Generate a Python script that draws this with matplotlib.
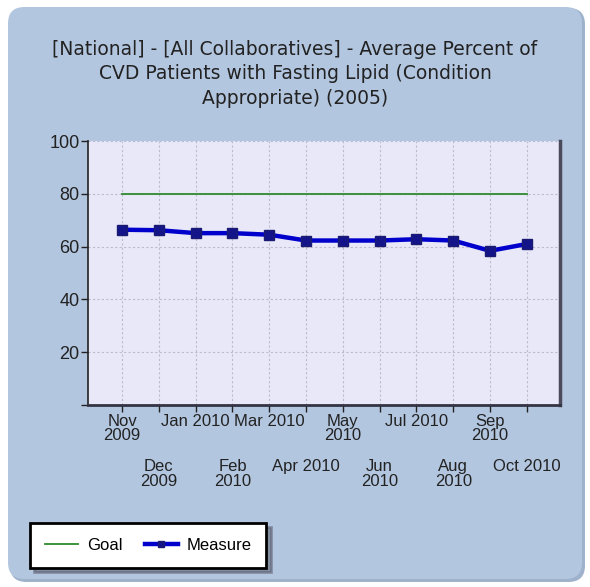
import matplotlib.pyplot as plt
from matplotlib.patches import FancyBboxPatch
from matplotlib.lines import Line2D

months = ["Nov\n2009", "Dec\n2009", "Jan 2010", "Feb\n2010", "Mar 2010", "Apr 2010",
          "May\n2010", "Jun\n2010", "Jul 2010", "Aug\n2010", "Sep\n2010", "Oct 2010"]
measure = [66.4, 66.2, 65.1, 65.1, 64.5, 62.3, 62.3, 62.3, 62.8, 62.3, 58.4, 61.0]
goal = [80] * 12
yticks = [0, 20, 40, 60, 80, 100]
ylabels = ["", "20", "40", "60", "80", "100"]

title = ("[National] - [All Collaboratives] - Average Percent of\n"
         "CVD Patients with Fasting Lipid (Condition\n"
         "Appropriate) (2005)")

plt.rcParams['font.family'] = ['Liberation Sans', 'DejaVu Sans']

fig = plt.figure(figsize=(5.9, 5.87), dpi=100)
fig.patch.set_facecolor("white")

# rounded background panel
fig.patches.append(FancyBboxPatch((10 / 590, 5 / 587), 575 / 590, 574 / 587,
                                  boxstyle="round,pad=0,rounding_size=0.028",
                                  transform=fig.transFigure, fc="#9fb2cc", ec="none", zorder=-2))
fig.patches.append(FancyBboxPatch((8 / 590, 8 / 587), 574 / 590, 572 / 587,
                                  boxstyle="round,pad=0,rounding_size=0.028",
                                  transform=fig.transFigure, fc="#b3c6df", ec="none", zorder=-1))

fig.text(0.5, 0.932, title, ha="center", va="top", fontsize=13.5,
         family="DejaVu Sans", color="#222222", linespacing=1.36)

ax = fig.add_axes([88 / 590, 1 - 405 / 587, 472 / 590, 264 / 587])
ax.set_facecolor("#e8e8f8")

x = list(range(len(months)))
ax.plot(x, goal, color="#2e8b2e", lw=1.3, label="Goal", zorder=3)
ax.plot(x, measure, color="#0000cc", lw=3.2, marker="s", ms=7,
        mfc="#14148a", mec="#1a1a70", mew=1, label="Measure", zorder=4)

ax.set_xlim(-0.926, 11.9)
ax.set_ylim(0, 100)
ax.set_yticks(yticks)
ax.set_yticklabels(ylabels)

even = x[0::2]
odd = x[1::2]
ax.set_xticks(even)
ax.set_xticklabels(months[0::2])
ax.set_xticks(odd, minor=True)
ax.set_xticklabels(months[1::2], minor=True)

ax.tick_params(axis="x", which="both", length=5, width=1, color="#222222",
               labelsize=12, labelcolor="#222222")
ax.tick_params(axis="x", which="major", pad=1.5)
ax.tick_params(axis="x", which="minor", pad=34)
ax.tick_params(axis="y", length=5, width=1, color="#222222", labelsize=13,
               labelcolor="#222222", pad=1)
for lbl in ax.get_xticklabels(which="both"):
    lbl.set_linespacing(0.95)

ax.grid(True, which="both", axis="x", ls=(0, (2, 2)), color="#bcbccc", lw=0.8)
ax.grid(True, which="major", axis="y", ls=(0, (2, 2)), color="#bcbccc", lw=0.8)
ax.set_axisbelow(True)

ax.spines["top"].set_visible(False)
ax.spines["left"].set_color("#222222")
ax.spines["left"].set_linewidth(1.2)
ax.spines["bottom"].set_color("#333344")
ax.spines["bottom"].set_linewidth(2)
ax.spines["right"].set_color("#4a4a5a")
ax.spines["right"].set_linewidth(2.5)

handles = [Line2D([], [], color="#2e8b2e", lw=1.3),
           Line2D([], [], color="#0000cc", lw=3.2, marker="s", ms=5,
                  mfc="#14148a", mec="#1a1a70")]
leg = fig.legend(handles, ["Goal", "Measure"], loc="lower left",
                 bbox_to_anchor=(30 / 590, 1 - 568 / 587), ncol=2, fontsize=12,
                 frameon=True, fancybox=False, handlelength=2, handletextpad=0.5,
                 columnspacing=1.35, borderpad=0.9, borderaxespad=0,
                 shadow={"ox": 3, "oy": -3, "color": "#555566"})
leg.get_frame().set_edgecolor("black")
leg.get_frame().set_linewidth(2)
leg.get_frame().set_facecolor("white")
leg.get_frame().set_alpha(1)

fig.savefig("out.png", dpi=100)
